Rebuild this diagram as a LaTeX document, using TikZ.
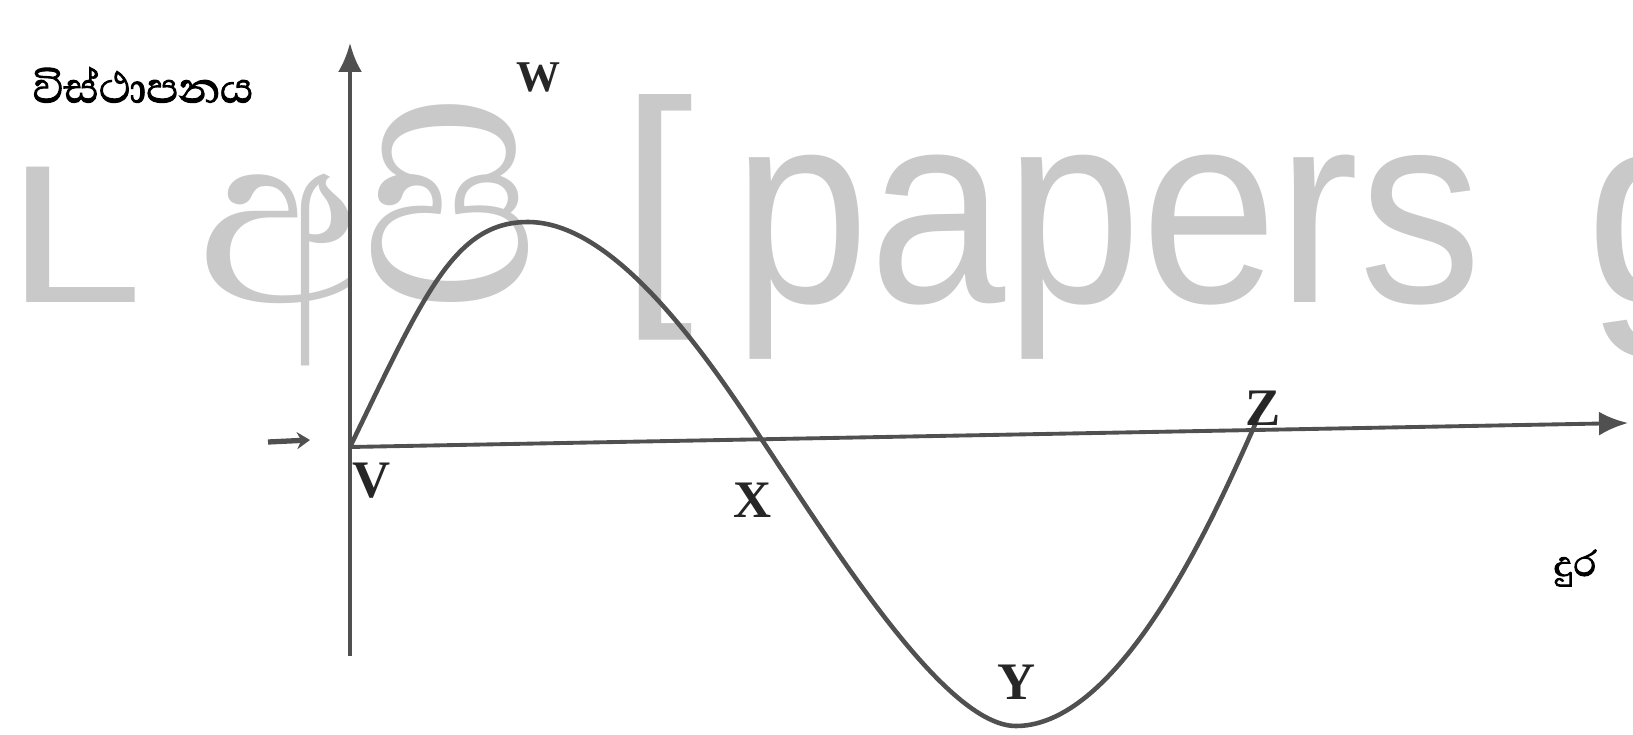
\documentclass[tikz,border=0pt]{standalone}
\usepackage{fontspec}
\usepackage{xcolor}
\usetikzlibrary{arrows.meta}
\setmainfont{Liberation Serif}
\newfontfamily\sinhalafont[Script=Sinhala]{Abhaya Libre}
\newfontfamily\sinhalabold[Script=Sinhala,FakeBold=2]{Abhaya Libre}
\newfontfamily\markfont{Liberation Sans}
\definecolor{GraphLine}{HTML}{505050}
\definecolor{MarkGray}{HTML}{C9C9C9}

\begin{document}
\begin{tikzpicture}[x=1cm,y=1cm,
  axis/.style={GraphLine,line width=2.2pt,-{Latex[length=5.8mm,width=4.8mm]}},
  wave/.style={GraphLine,line width=2.6pt},
  ptlabel/.style={inner sep=0,font=\bfseries\fontsize{30}{30}\selectfont,text=black!85},
  wmark/.style={inner sep=0,anchor=base west,text=MarkGray}]
\path[use as bounding box] (0,0) rectangle (32.66,14.68);
% watermark
\node[wmark,font=\markfont\fontsize{112}{112}\selectfont,xscale=1.25,transform shape] (markL) at (0.12,8.64) {L};
\node[wmark,font=\sinhalafont\fontsize{176}{176}\selectfont,xscale=0.98,transform shape] (markApi) at (3.94,8.64) {අපි};
\node[wmark,font=\markfont\fontsize{150}{150}\selectfont] (markBr) at (12.40,8.98) {[};
\node[wmark,font=\markfont\fontsize{156}{156}\selectfont,xscale=0.893,transform shape] (markPapers) at (14.66,8.64) {papers};
\node[wmark,font=\markfont\fontsize{156}{156}\selectfont] (markG) at (31.71,8.64) {g};
% axes
\coordinate (O) at (7.00,5.74);
\coordinate (yBot) at (7.00,1.56);
\coordinate (yTop) at (7.00,13.82);
\coordinate (xEnd) at (32.56,6.22);
\draw[axis] (yBot) -- (yTop);
\draw[axis] (O) -- (xEnd);
% wave
\coordinate (W) at (10.56,10.24);
\coordinate (X) at (15.24,5.88);
\coordinate (Y) at (20.32,0.16);
\coordinate (Z) at (25.08,6.14);
\coordinate (Zend) at (25.24,6.58);
\draw[wave] (O) .. controls (8.50,8.84) and (9.10,10.24) .. (W)
  .. controls (12.20,10.24) and (13.93,7.90) .. (X)
  .. controls (16.70,3.70) and (18.90,0.16) .. (Y)
  .. controls (22.50,0.16) and (24.42,4.68) .. (Z) -- (Zend);
% labels
\node[inner sep=0,font=\sinhalabold\fontsize{31}{31}\selectfont] (dispLabel) at (2.86,12.98) {විස්ථාපනය};
\node[inner sep=0,font=\sinhalabold\fontsize{26}{26}\selectfont] (distLabel) at (31.50,3.32) {දුර};
\node[ptlabel,font=\bfseries\fontsize{25}{25}\selectfont] (lblW) at (10.76,13.14) {W};
\node[ptlabel] (lblV) at (7.44,5.06) {V};
\node[ptlabel] (lblX) at (15.06,4.68) {X};
\node[ptlabel] (lblY) at (20.34,1.04) {Y};
\node[ptlabel] (lblZ) at (25.26,6.52) {Z};
% mark left of origin
\coordinate (tickA) at (5.36,5.84);
\coordinate (tickB) at (6.20,5.88);
\draw[GraphLine,line width=3pt,-{Stealth[length=2.6mm,width=3.4mm]}] (tickA) -- (tickB);
\end{tikzpicture}
\end{document}
